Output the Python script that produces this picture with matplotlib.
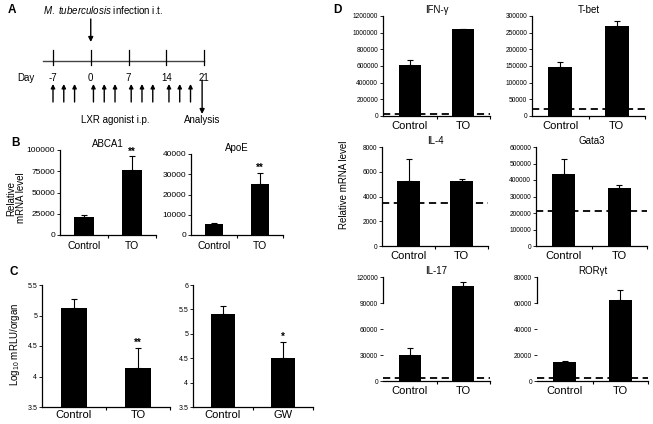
import matplotlib
matplotlib.use("Agg")
import matplotlib.pyplot as plt
from matplotlib.ticker import FormatStrFormatter, FixedLocator

plt.rcParams['font.family'] = ['Liberation Sans', 'DejaVu Sans']
plt.rcParams['mathtext.fontset'] = 'custom'
plt.rcParams['mathtext.rm'] = 'Liberation Sans'
plt.rcParams['mathtext.it'] = 'Liberation Sans:italic'

W, H = 653, 424

# panel A timeline
day_ticks = [-7, 0, 7, 14, 21]
lxr_days = [-7, -5, -3, 0.5, 2.5, 4.5, 7.5, 9.5, 11.5, 14.5, 16.5, 18.5]
infection_day = 0
analysis_day = 21

# shared categories
groups = ["Control", "TO"]
groups_gw = ["Control", "GW"]

# panel B
abca1 = [21000, 76000]
abca1_err = [2500, 16500]
apoe = [5600, 25000]
apoe_err = [300, 5500]

# panel C
cfu_to = [5.12, 4.14]
cfu_to_err = [0.15, 0.33]
cfu_gw = [5.40, 4.51]
cfu_gw_err = [0.16, 0.32]

# panel D
ifng = [615000, 1040000]; ifng_err = [60000, 0]; ifng_base = 30000
tbet = [147000, 271000]; tbet_err = [14000, 13000]; tbet_base = 22000
il4 = [5250, 5250]; il4_err = [1750, 200]; il4_base = 3500
gata3 = [435000, 353000]; gata3_err = [92000, 15000]; gata3_base = 212000
il17 = [30500, 110000]; il17_err = [7500, 4500]; il17_base = 3000
rorgt = [14800, 62500]; rorgt_err = [700, 7500]; rorgt_base = 2500

fig = plt.figure(figsize=(W / 100, H / 100), dpi=100)


def px_axes(l, t, r, b):
    return fig.add_axes([l / W, 1 - b / H, (r - l) / W, (b - t) / H])


def ftext(x, y, s, **kw):
    fig.text(x / W, 1 - y / H, s, **kw)


def bar_panel(rect, vals, err, labels, ylim, yticks, title=None, fmt='%d',
              tick_fs=5, lab_fs=8, title_fs=7, width=0.4, stars=None,
              base=None, spine_bounds=None, xpad=3.5):
    ax = px_axes(*rect)
    x = [0, 1]
    ax.bar(x, vals, width=width, color='black', zorder=2)
    ax.errorbar(x, vals, yerr=[[0, 0], err], fmt='none', ecolor='black',
                elinewidth=0.8, capsize=2.2, capthick=0.8, zorder=3)
    if base is not None:
        ax.axhline(base, color='black', ls=(0, (4, 2.5)), lw=1.3, zorder=1)
    ax.set_xlim(-0.5, 1.5)
    ax.set_ylim(*ylim)
    ax.set_yticks(yticks)
    ax.yaxis.set_major_formatter(FormatStrFormatter(fmt))
    ax.set_xticks(x)
    ax.set_xticklabels(labels, fontsize=lab_fs)
    ax.xaxis.set_minor_locator(FixedLocator([0.5, 1.5]))
    ax.tick_params(axis='x', which='major', length=0, pad=xpad)
    ax.tick_params(axis='x', which='minor', length=2.5, width=0.8,
                   direction='out')
    ax.tick_params(axis='y', length=2, width=0.6, labelsize=tick_fs, pad=1.5)
    for s in ['top', 'right']:
        ax.spines[s].set_visible(False)
    for s in ['left', 'bottom']:
        ax.spines[s].set_linewidth(0.9)
    if spine_bounds is not None:
        ax.spines['left'].set_bounds(*spine_bounds)
    if title:
        ax.set_title(title, fontsize=title_fs, pad=2)
    if stars:
        for i, s in stars.items():
            ax.text(i, vals[i] + err[i], s, ha='center', va='bottom',
                    fontsize=7, fontweight='bold')
    ax.patch.set_visible(False)
    return ax


# ---- panel A ----
axA = px_axes(0, 0, 330, 120)
px_per_day = 151 / 28
axA.set_xlim(-7 - 53 / px_per_day, 21 + (330 - 204) / px_per_day)
axA.set_ylim(120, 0)
axA.axis('off')
axA.plot([-7 - 10 / px_per_day, 21], [61, 61], color='#444444', lw=1)
for d in day_ticks:
    axA.plot([d, d], [50, 65], color='black', lw=0.9)
    axA.text(d, 78, str(d), ha='center', va='center', fontsize=7)
axA.text(-7 - 27 / px_per_day, 78, "Day", ha='center', va='center', fontsize=7)
for d in lxr_days:
    axA.annotate('', xy=(d, 84), xytext=(d, 102),
                 arrowprops=dict(arrowstyle='-|>', color='black', lw=1,
                                 mutation_scale=6, shrinkA=0, shrinkB=0))
axA.annotate('', xy=(analysis_day - 0.35, 114), xytext=(analysis_day - 0.35, 80),
             arrowprops=dict(arrowstyle='-|>', color='black', lw=1,
                             mutation_scale=7, shrinkA=0, shrinkB=0))
axA.annotate('', xy=(infection_day, 42), xytext=(infection_day, 19),
             arrowprops=dict(arrowstyle='-|>', color='black', lw=1,
                             mutation_scale=7, shrinkA=0, shrinkB=0))
ftext(43, 10, r"$\it{M.\ tuberculosis}$ infection i.t.", fontsize=7,
      va='center')
ftext(115, 120, "LXR agonist i.p.", fontsize=7, ha='center', va='center')
ftext(202, 120, "Analysis", fontsize=7, ha='center', va='center')

# panel letters
ftext(12, 10, "A", fontsize=8.5, fontweight='bold', ha='center', va='center')
ftext(15, 143, "B", fontsize=8.5, fontweight='bold', ha='center', va='center')
ftext(14, 272, "C", fontsize=8.5, fontweight='bold', ha='center', va='center')
ftext(337, 10, "D", fontsize=8.5, fontweight='bold', ha='center', va='center')

# ---- panel B ----
bar_panel((60, 150, 156, 235), abca1, abca1_err, groups, (0, 100000),
          [0, 25000, 50000, 75000, 100000], title="ABCA1", tick_fs=6,
          lab_fs=7.5, stars={1: "**"}, xpad=4)
bar_panel((191, 154, 283, 235), apoe, apoe_err, groups, (0, 40000),
          [0, 10000, 20000, 30000, 40000], title="ApoE", tick_fs=6,
          lab_fs=7.5, stars={1: "**"}, xpad=4)
ftext(16, 198, "Relative\nmRNA level", fontsize=7, rotation=90,
      ha='center', va='center', linespacing=1.0)

# ---- panel C ----
bar_panel((42, 285, 170, 407), cfu_to, cfu_to_err, groups, (3.5, 5.5),
          [3.5, 4, 4.5, 5, 5.5], fmt='%g', tick_fs=5, lab_fs=8,
          stars={1: "**"}, xpad=2)
bar_panel((193, 285, 313, 407), cfu_gw, cfu_gw_err, groups_gw, (3.5, 6),
          [3.5, 4, 4.5, 5, 5.5, 6], fmt='%g', tick_fs=5, lab_fs=8,
          stars={1: "*"}, xpad=2)
ftext(15, 344, r"Log$_{10}$ mRLU/organ", fontsize=7, rotation=90,
      ha='center', va='center')

# ---- panel D ----
bar_panel((383, 16, 490, 116), ifng, ifng_err, groups, (0, 1200000),
          list(range(0, 1200001, 200000)), title="IFN-γ", tick_fs=4.8,
          lab_fs=8, width=0.42, base=ifng_base)
bar_panel((532, 16, 645, 116), tbet, tbet_err, groups, (0, 300000),
          list(range(0, 300001, 50000)), title="T-bet", tick_fs=4.8,
          lab_fs=8, width=0.42, base=tbet_base)
bar_panel((382, 147, 488, 246), il4, il4_err, groups, (0, 8000),
          list(range(0, 8001, 2000)), title="IL-4", tick_fs=4.8,
          lab_fs=8, width=0.42, base=il4_base)
bar_panel((536, 147, 647, 246), gata3, gata3_err, groups, (0, 600000),
          list(range(0, 600001, 100000)), title="Gata3", tick_fs=4.8,
          lab_fs=8, width=0.42, base=gata3_base)
bar_panel((383, 277, 490, 381), il17, il17_err, groups, (0, 120000),
          list(range(0, 120001, 30000)), title="IL-17", tick_fs=4.8,
          lab_fs=8, width=0.42, base=il17_base,
          spine_bounds=(90000, 120000))
bar_panel((537, 277, 648, 381), rorgt, rorgt_err, groups, (0, 80000),
          list(range(0, 80001, 20000)), title="RORγt", tick_fs=4.8,
          lab_fs=8, width=0.42, base=rorgt_base,
          spine_bounds=(60000, 80000))
ftext(344, 185, "Relative mRNA level", fontsize=7, rotation=90,
      ha='center', va='center')

fig.savefig("out.png", dpi=100)
